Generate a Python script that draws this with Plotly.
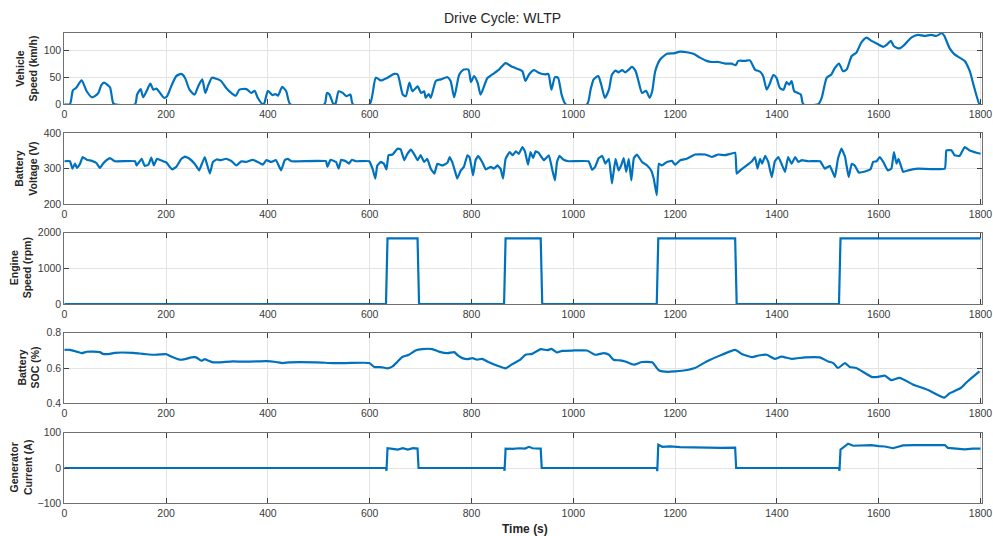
import plotly.graph_objects as go

# ---------------- data ----------------
t_speed = [0, 11, 17, 23, 34, 44, 54, 60, 67, 73, 78, 86, 90, 96, 99, 139, 143, 150, 155, 163, 169, 175,
           181, 188, 196, 202, 210, 220, 230, 237, 246, 256, 263, 271, 277, 282, 290, 299, 308, 318, 328,
           337, 344, 358, 367, 374, 380, 390, 393, 400, 409, 415, 420, 428, 436, 444, 511, 516, 521, 529,
           533, 539, 547, 554, 562, 567, 600, 612, 622, 635, 648, 655, 665, 671, 678, 684, 694, 701, 707,
           710, 716, 720, 730, 740, 753, 759, 766, 776, 785, 794, 799, 805, 812, 818, 831, 841, 854, 867,
           880, 894, 900, 906, 913, 923, 932, 945, 951, 957, 964, 970, 977, 985, 1027, 1034, 1040, 1049,
           1055, 1062, 1070, 1076, 1083, 1089, 1096, 1102, 1109, 1115, 1122, 1128, 1135, 1143, 1150, 1155,
           1161, 1171, 1184, 1197, 1210, 1223, 1236, 1249, 1262, 1272, 1285, 1298, 1311, 1319, 1324, 1337,
           1347, 1357, 1367, 1373, 1380, 1386, 1393, 1399, 1406, 1413, 1419, 1424, 1429, 1434, 1441, 1447,
           1452, 1481, 1488, 1498, 1507, 1514, 1522, 1530, 1537, 1547, 1556, 1566, 1576, 1586, 1596, 1609,
           1615, 1624, 1630, 1641, 1651, 1664, 1677, 1690, 1703, 1713, 1724, 1729, 1739, 1749, 1759, 1769,
           1779, 1788, 1798, 1800]
vehicle_speed = [0, 0, 26, 30, 44, 24, 13, 15, 21, 36, 40, 35, 31, 2, 0, 0, 18, 28, 13, 27, 38, 27,
                 29, 21, 12, 15, 33, 52, 56, 49, 27, 18, 33, 46, 21, 33, 49, 47, 43, 30, 21,
                 16, 27, 28, 21, 25, 12, 0, 2, 25, 17, 19, 16, 32, 24, 0, 0, 21, 18, 0,
                 2, 24, 21, 15, 18, 0, 0, 49, 44, 49, 56, 55, 18, 15, 40, 24, 33, 21, 24,
                 12, 19, 12, 43, 46, 50, 43, 13, 55, 64, 64, 41, 52, 40, 18, 48, 55, 64, 76,
                 69, 64, 61, 43, 55, 63, 58, 55, 56, 27, 50, 49, 18, 0, 0, 27, 46, 52,
                 36, 12, 27, 55, 62, 59, 63, 59, 64, 69, 62, 43, 21, 25, 12, 24,
                 61, 83, 93, 94, 97, 96, 93, 86, 80, 78, 78, 75, 75, 72, 80, 80,
                 81, 64, 60, 52, 27, 38, 54, 49, 30, 27, 41, 36, 43, 24, 21, 18,
                 0, 0, 12, 49, 55, 67, 75, 61, 64, 89, 95, 114, 123, 117, 112, 106,
                 109, 117, 107, 103, 110, 123, 128, 126, 128, 126, 131, 126, 104, 92, 86, 80,
                 61, 30, 0, 0]

t_volt = [0, 11, 16, 21, 25, 31, 36, 44, 54, 63, 70, 76, 83, 90, 99, 139, 142, 152, 158, 165, 171, 176,
          182, 194, 201, 207, 212, 220, 230, 237, 246, 256, 265, 269, 276, 280, 286, 292, 299, 308, 318,
          328, 338, 348, 357, 370, 380, 390, 397, 406, 416, 426, 433, 439, 446, 514, 517, 523, 534, 539,
          544, 553, 559, 565, 573, 599, 606, 611, 615, 622, 628, 633, 637, 645, 655, 661, 668, 674, 681,
          687, 694, 700, 707, 713, 720, 727, 733, 743, 753, 757, 762, 768, 772, 779, 785, 792, 796, 800,
          803, 808, 813, 821, 828, 838, 844, 851, 857, 862, 867, 875, 881, 887, 893, 900, 905, 911, 916,
          921, 926, 932, 942, 952, 959, 964, 968, 973, 981, 991, 1030, 1037, 1043, 1050, 1057, 1063, 1070,
          1076, 1083, 1089, 1094, 1099, 1104, 1109, 1114, 1119, 1125, 1135, 1145, 1153, 1158, 1164, 1168,
          1174, 1184, 1194, 1200, 1210, 1223, 1239, 1259, 1272, 1285, 1298, 1318, 1321, 1328, 1337, 1351,
          1357, 1362, 1367, 1371, 1377, 1383, 1390, 1396, 1403, 1409, 1416, 1422, 1429, 1436, 1442, 1449,
          1462, 1485, 1494, 1504, 1514, 1520, 1527, 1534, 1541, 1547, 1553, 1561, 1573, 1584, 1589, 1596,
          1602, 1609, 1618, 1625, 1630, 1635, 1639, 1648, 1658, 1677, 1730, 1733, 1743, 1749, 1759, 1769,
          1778, 1792, 1800]
battery_voltage = [321, 321, 300, 314, 302, 314, 333, 325, 322, 316, 302, 314, 324, 330, 321, 321, 309, 328, 308, 311, 331, 309,
                   328, 321, 317, 305, 298, 305, 328, 334, 328, 314, 295, 309, 333, 314, 286, 319, 326, 324, 328,
                   322, 309, 321, 319, 325, 319, 311, 324, 319, 324, 295, 324, 328, 321, 321, 305, 325, 319, 300,
                   325, 321, 314, 325, 321, 321, 298, 272, 309, 319, 314, 298, 338, 340, 357, 354, 324, 342, 354,
                   342, 324, 338, 319, 328, 300, 286, 314, 309, 317, 333, 319, 291, 272, 295, 305, 338, 333, 305,
                   281, 324, 336, 319, 298, 305, 300, 309, 300, 272, 328, 347, 338, 349, 342, 361, 349, 311, 347,
                   330, 349, 345, 324, 338, 295, 267, 319, 336, 325, 321, 321, 297, 305, 330, 336, 314, 328,
                   258, 328, 295, 309, 330, 291, 328, 267, 330, 340, 319, 309, 295, 272, 225, 314,
                   309, 319, 322, 311, 324, 328, 340, 340, 333, 340, 338, 345, 286, 295, 305, 321,
                   333, 300, 328, 314, 336, 319, 276, 321, 333, 314, 291, 333, 314, 333, 319, 324,
                   321, 321, 300, 308, 276, 328, 357, 333, 276, 314, 309, 289, 292, 298, 319, 321,
                   333, 319, 295, 300, 347, 314, 328, 291, 295, 300, 300, 352, 352, 338, 336, 361,
                   352, 345, 342]

t_engine = [0, 632, 635, 694, 697, 864, 867, 936, 939, 1164, 1167, 1318, 1321, 1522, 1525, 1800]
engine_speed = [0, 0, 1840, 1840, 0, 0, 1840, 1840, 0, 0, 1840, 1840, 0, 0, 1840, 1840]

t_soc = [0, 11, 24, 34, 44, 57, 70, 76, 90, 99, 135, 148, 161, 174, 188, 201, 210, 227, 237, 250, 259,
         269, 276, 282, 292, 305, 331, 351, 377, 397, 416, 429, 442, 495, 527, 553, 599, 609, 625, 635,
         645, 655, 664, 677, 690, 703, 723, 736, 753, 766, 772, 782, 792, 802, 811, 821, 831, 851, 867,
         880, 896, 906, 919, 936, 949, 957, 968, 978, 998, 1027, 1043, 1060, 1070, 1079, 1092, 1102, 1119,
         1135, 1155, 1168, 1187, 1200, 1220, 1239, 1262, 1292, 1318, 1331, 1351, 1364, 1380, 1396, 1409,
         1429, 1455, 1484, 1501, 1511, 1520, 1534, 1543, 1556, 1586, 1599, 1612, 1625, 1641, 1667, 1697,
         1729, 1739, 1762, 1775, 1798]
battery_soc = [0.703, 0.703, 0.693, 0.684, 0.692, 0.693, 0.690, 0.680, 0.680, 0.686, 0.686, 0.682, 0.678, 0.675, 0.677, 0.678, 0.665, 0.647, 0.650, 0.660, 0.660,
               0.641, 0.650, 0.643, 0.632, 0.632, 0.637, 0.636, 0.637, 0.639, 0.634, 0.628, 0.632, 0.632, 0.628, 0.628, 0.628, 0.606, 0.604, 0.598,
               0.609, 0.637, 0.662, 0.675, 0.699, 0.707, 0.707, 0.693, 0.684, 0.690, 0.675, 0.656, 0.650, 0.656, 0.647, 0.652, 0.637, 0.613, 0.598,
               0.622, 0.647, 0.675, 0.680, 0.707, 0.701, 0.708, 0.688, 0.697, 0.699, 0.699, 0.675, 0.684, 0.675, 0.647, 0.643, 0.637, 0.619,
               0.634, 0.632, 0.587, 0.578, 0.581, 0.587, 0.600, 0.637, 0.675, 0.703, 0.680, 0.662, 0.671, 0.675, 0.652, 0.665,
               0.652, 0.660, 0.660, 0.637, 0.628, 0.600, 0.628, 0.606, 0.600, 0.550, 0.550, 0.557, 0.531, 0.544, 0.507, 0.475,
               0.432, 0.456, 0.488, 0.525, 0.581]

t_gen = [0, 632, 633, 635, 645, 655, 665, 675, 685, 694, 696, 864, 865, 867, 880, 895, 905, 913, 920, 936, 938,
         1164, 1165, 1167, 1175, 1190, 1210, 1230, 1250, 1270, 1290, 1318, 1320,
         1522, 1523, 1525, 1533, 1540, 1550, 1570, 1586, 1600, 1612, 1628, 1648, 1670, 1700, 1730, 1736,
         1750, 1769, 1785, 1800]
gen_current = [0, 0, -8, 56, 54, 52, 56, 52, 56, 55, 0, 0, -8, 55, 54, 56, 55, 60, 56, 55, 0,
               0, -9, 66, 60, 61, 59, 58, 57, 58, 57, 58, 0,
               0, -8, 52, 60, 69, 63, 64, 65, 62, 61, 56, 64, 65, 65, 65, 57,
               56, 53, 55, 55]

x_ticks = [0, 200, 400, 600, 800, 1000, 1200, 1400, 1600, 1800]

# (time, values, y title, y range, y ticks, title x-centre in px, line shape, smoothing)
panels = [
    (t_speed, vehicle_speed, "Vehicle<br>Speed (km/h)", [0, 132], [0, 50, 100], 26, "spline", 0.6),
    (t_volt, battery_voltage, "Battery<br>Voltage (V)", [200, 400], [200, 300, 400], 26, "spline", 0.3),
    (t_engine, engine_speed, "Engine<br>Speed (rpm)", [0, 2000], [0, 1000, 2000], 21, "linear", None),
    (t_soc, battery_soc, "Battery<br>SOC (%)", [0.4, 0.8], [0.4, 0.6, 0.8], 28.5, "spline", 0.5),
    (t_gen, gen_current, "Generator<br>Current (A)", [-100, 100], [-100, 0, 100], 21, "linear", None),
]

# ---------------- layout geometry (pixels) ----------------
W, H = 993, 536
x_left, x_right = 64.3, 981.5
x_range = [0, 1802]
panel_px = [(32.7, 104.3), (133.3, 204.0), (232.7, 304.0), (332.7, 403.3), (432.7, 503.3)]

FONT = "Liberation Sans, Arial, Helvetica, sans-serif"
LINE_COLOR = "#0072BD"

fig = go.Figure()
annotations = []

for i, (tx, ty, label, yr, yt, lab_x, shape, smooth) in enumerate(panels):
    n = i + 1
    xa = "x" if n == 1 else f"x{n}"
    ya = "y" if n == 1 else f"y{n}"
    line = dict(color=LINE_COLOR, width=2.2, shape=shape)
    if smooth is not None:
        line["smoothing"] = smooth
    fig.add_trace(go.Scatter(x=tx, y=ty, mode="lines", xaxis=xa, yaxis=ya,
                             line=line, showlegend=False, hoverinfo="skip"))
    top, bot = panel_px[i]
    common = dict(showline=True, mirror="ticks", linecolor="#707070", linewidth=1,
                  ticks="inside", ticklen=5, tickcolor="#404040", tickwidth=1,
                  showgrid=True, gridcolor="#e4e4e4", gridwidth=1, zeroline=False,
                  automargin=False,
                  tickfont=dict(family=FONT, size=10.5, color="#3a3a3a"))
    fig.layout[f"xaxis{'' if n == 1 else n}"] = dict(
        domain=[x_left / W, x_right / W], anchor=ya, range=x_range,
        tickvals=x_ticks, **common)
    fig.layout[f"yaxis{'' if n == 1 else n}"] = dict(
        domain=[1 - bot / H, 1 - top / H], anchor=xa, range=yr,
        tickvals=yt, **common)
    annotations.append(dict(
        text=f"<b>{label}</b>", xref="paper", yref="paper",
        x=lab_x / W, y=1 - (top + bot) / 2 / H, xanchor="center", yanchor="middle",
        textangle=-90, showarrow=False,
        font=dict(family=FONT, size=10.5, color="#262626")))

annotations.append(dict(text="Drive Cycle: WLTP", xref="paper", yref="paper",
                        x=503 / W, y=1 - 18 / H, xanchor="center", yanchor="middle",
                        showarrow=False, font=dict(family=FONT, size=14, color="#262626")))
annotations.append(dict(text="<b>Time (s)</b>", xref="paper", yref="paper",
                        x=525 / W, y=1 - 529 / H, xanchor="center", yanchor="middle",
                        showarrow=False, font=dict(family=FONT, size=12, color="#262626")))

fig.update_layout(width=W, height=H, margin=dict(l=0, r=0, t=0, b=0),
                  paper_bgcolor="white", plot_bgcolor="white",
                  annotations=annotations)

fig.write_html("out.html")
